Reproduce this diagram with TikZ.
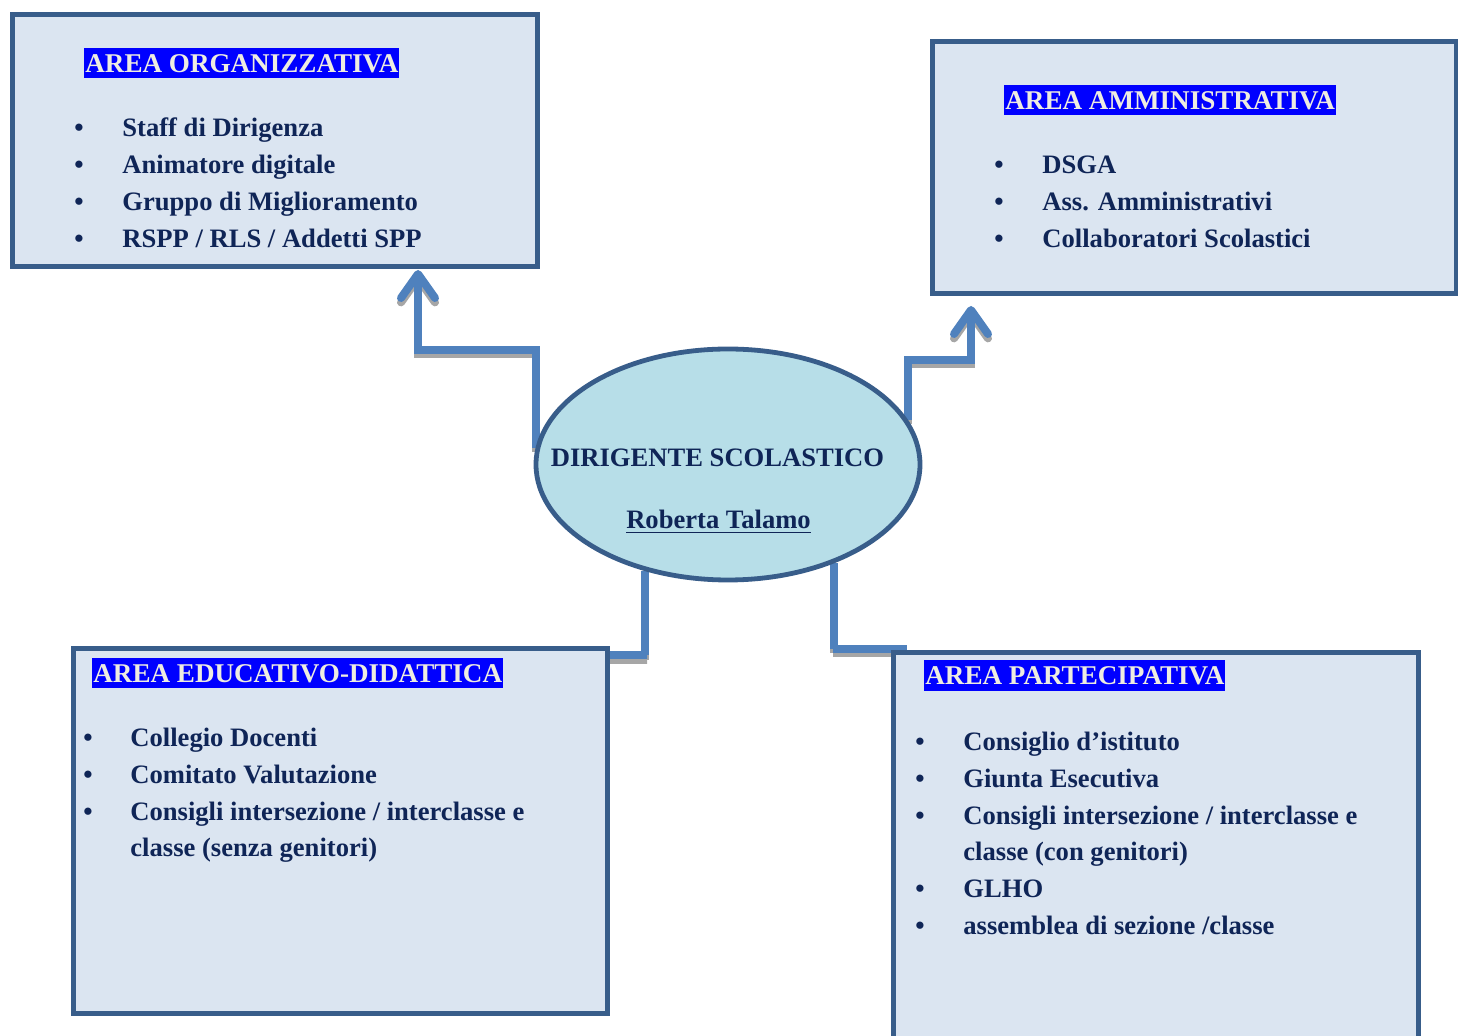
\documentclass[tikz,border=0pt]{standalone}
\usepackage{fontspec}
\setmainfont{Liberation Serif}
\usetikzlibrary{arrows.meta, shapes.geometric}
\pgfdeclarelayer{bg}
\pgfsetlayers{bg,main}
\definecolor{boxfill}{HTML}{DBE5F1}
\definecolor{boxline}{HTML}{385D8A}
\definecolor{ellfill}{HTML}{B7DEE8}
\definecolor{linkblue}{HTML}{4F81BD}
\definecolor{shadowgray}{HTML}{A6A6A6}
\definecolor{navy}{HTML}{0F2557}
\definecolor{hiblue}{HTML}{0000FF}
\definecolor{hitext}{HTML}{EEECE1}

\begin{document}
\begin{tikzpicture}[x=0.5pt, y=-0.5pt]
	\tikzset{
		area/.style = {rectangle, draw=boxline, line width=2.3pt, fill=boxfill, anchor=north west, inner sep=0pt},
		txt/.style = {font=\fontsize{13.3}{16}\selectfont\bfseries, text=navy, inner sep=0pt},
		title/.style = {txt, font=\fontsize{13.55}{16}\selectfont\bfseries, anchor=base west, fill=hiblue, text=hitext, text height=12.2pt, text depth=2.8pt, inner xsep=0.5pt, inner ysep=0.2pt},
		item/.style = {txt, anchor=base west},
		dot/.style = {txt, anchor=base},
		link/.style = {draw=linkblue, line width=4pt},
		shade/.style = {draw=shadowgray, line width=4pt, transform canvas={yshift=-2.2pt}},
		tip/.style = {-{Straight Barb[length=12pt, width=17pt, line width=4pt, round]}}
	}
	\useasboundingbox (0, 0) rectangle (1458, 1036);
	\clip (0, 0) rectangle (1458, 1036);
	\node[area, minimum width=262.5pt, minimum height=126pt] (org) at (10, 12) {};
	\node[area, minimum width=262pt, minimum height=126pt] (amm) at (930, 39) {};
	\node[area, minimum width=267pt, minimum height=182.5pt] (edu) at (71, 646) {};
	\node[area, minimum width=262.5pt, minimum height=200pt] (par) at (891, 650) {};
	\node[ellipse, draw=boxline, line width=2.4pt, fill=ellfill, inner sep=0pt,
		minimum width=192pt, minimum height=115.5pt] (dir) at (728, 464.5) {};
	\node[txt, anchor=base] (dir-t) at (717.5, 467) {DIRIGENTE SCOLASTICO};
	\node[txt, anchor=base] (dir-n) at (718.5, 529) {\underline{Roberta Talamo}};

	\node[title] (org-t) at (84, 72.5) {AREA ORGANIZZATIVA};
	\foreach \lbl [count=\i] in {Staff di Dirigenza, Animatore digitale, Gruppo di Miglioramento, RSPP / RLS / Addetti SPP}{
		\node[dot] (org-d\i) at (79, 99.5+37*\i) {\textbullet};
		\node[item] (org-\i) at (122, 99.5+37*\i) {\lbl};
	}

	\node[title] (amm-t) at (1004, 109.5) {AREA AMMINISTRATIVA};
	\foreach \lbl [count=\i] in {DSGA, Ass. Amministrativi, Collaboratori Scolastici}{
		\node[dot] (amm-d\i) at (999, 136.5+37*\i) {\textbullet};
		\node[item] (amm-\i) at (1042, 136.5+37*\i) {\lbl};
	}

	\node[title] (edu-t) at (92, 682.5) {AREA EDUCATIVO-DIDATTICA};
	\foreach \lbl [count=\i] in {Collegio Docenti, Comitato Valutazione, Consigli intersezione / interclasse e}{
		\node[dot] (edu-d\i) at (88, 709.5+37*\i) {\textbullet};
		\node[item] (edu-\i) at (130, 709.5+37*\i) {\lbl};
	}
	\node[item] (edu-3b) at (130, 856.5) {classe (senza genitori)};

	\node[title] (par-t) at (924, 685) {AREA PARTECIPATIVA};
	\foreach \yy/\lbl [count=\i] in {750.5/{Consiglio d’istituto}, 787.5/{Giunta Esecutiva}, 824.5/{Consigli intersezione / interclasse e}, 897.5/{GLHO}, 934.5/{assemblea di sezione /classe}}{
		\node[dot] (par-d\i) at (920, \yy) {\textbullet};
		\node[item] (par-\i) at (963, \yy) {\lbl};
	}
	\node[item] (par-3b) at (963, 860.5) {classe (con genitori)};

	\begin{pgfonlayer}{bg}
		\coordinate (k1) at (418, 350);
		\coordinate (t1) at (418, 270);
		\coordinate (k2) at (971, 360);
		\coordinate (t2) at (971, 306);
		\coordinate (k3) at (647, 655.5);
		\coordinate (k4) at (833, 649);
		\foreach \s in {shade, link}{
			\draw[\s, tip] (dir.175) |- (k1) -- (t1);
			\draw[\s, tip] (dir.14) |- (k2) -- (t2);
			\draw[\s] (dir.232) |- (k3) -- (k3 -| edu.east);
			\draw[\s] (dir.317) |- (k4) -- ([xshift=8pt]k4 -| par.west);
		}
	\end{pgfonlayer}
\end{tikzpicture}
\end{document}
